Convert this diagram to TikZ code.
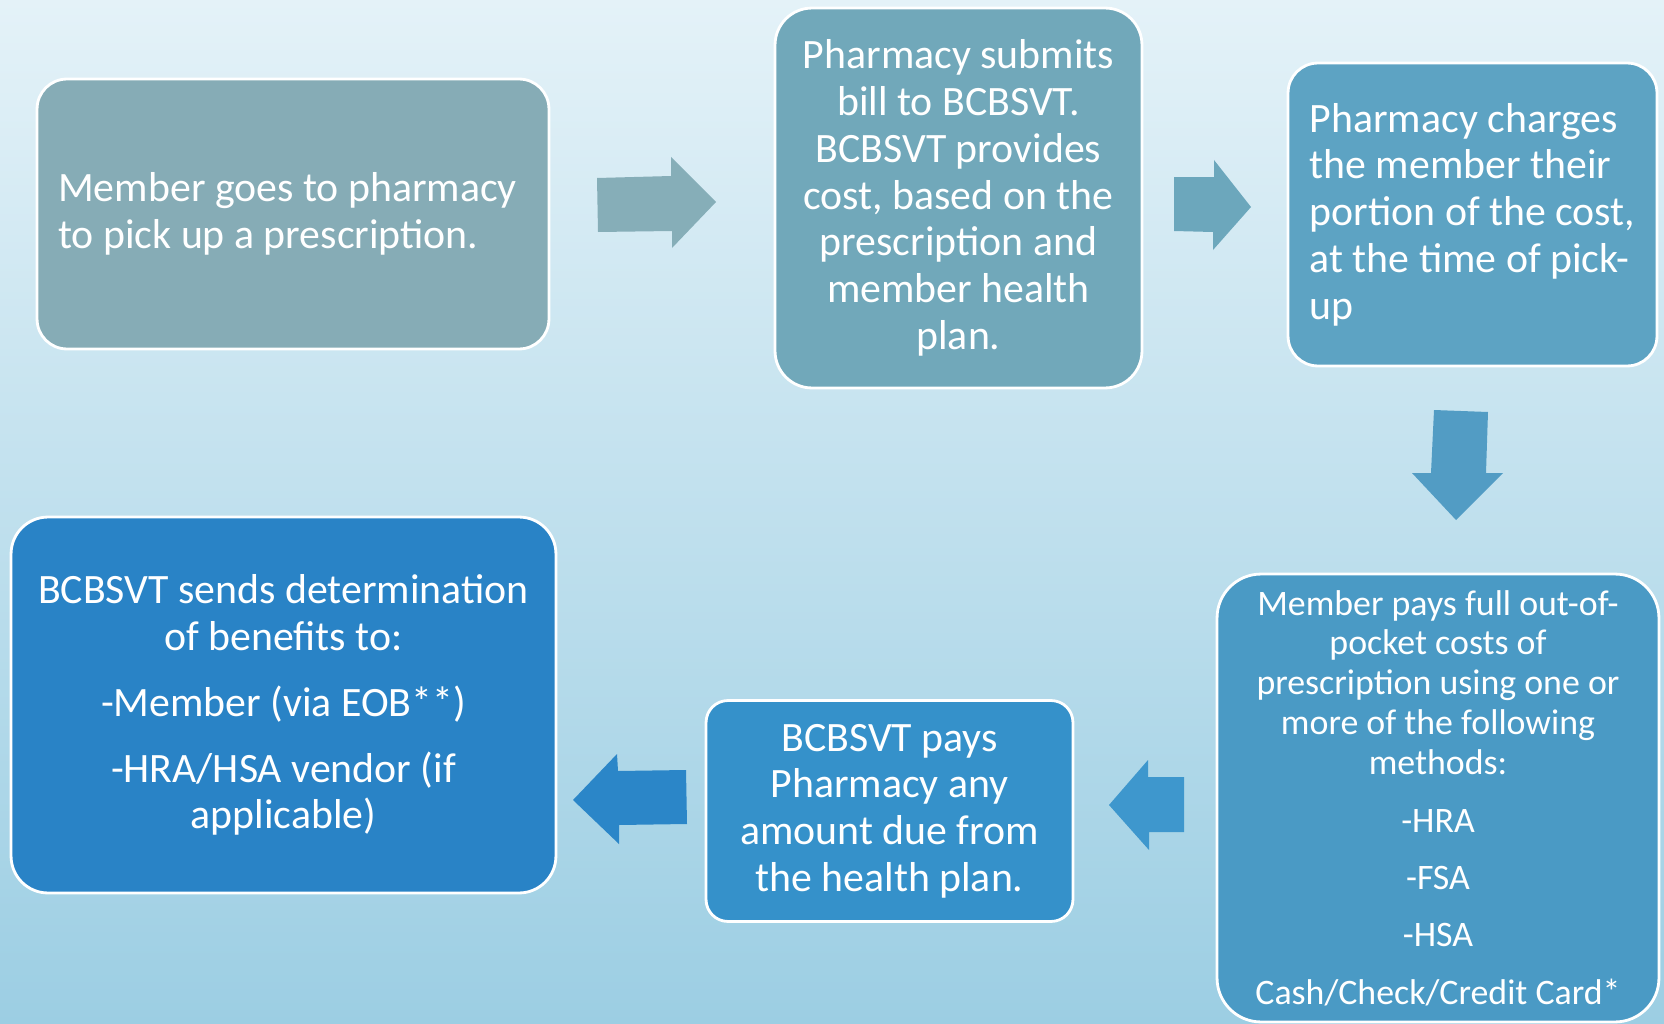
\documentclass[tikz,border=0pt]{standalone}
\usepackage{fontspec}
\setmainfont{Carlito}
\definecolor{bgtop}{HTML}{E4F2F8}
\definecolor{bgbot}{HTML}{9CCEE3}
\definecolor{cA}{HTML}{86ACB6}
\definecolor{cB}{HTML}{71A8BA}
\definecolor{cC}{HTML}{5DA3C3}
\definecolor{cD}{HTML}{3591CA}
\definecolor{cE}{HTML}{4A9AC5}
\definecolor{cF}{HTML}{2983C6}
\definecolor{aA}{HTML}{86AEB8}
\definecolor{aB}{HTML}{6CA7BC}
\definecolor{aC}{HTML}{529CC4}
\definecolor{aD}{HTML}{3E97CD}
\definecolor{aE}{HTML}{2B86C8}
\begin{document}
\begin{tikzpicture}[x=0.02cm,y=-0.02cm,
  box/.style={draw=white,line width=1.6pt,text=white,inner sep=0pt,
    font=\fontsize{23.8}{26.6}\selectfont},
  smallbox/.style={box,font=\fontsize{20.4}{22.7}\selectfont}]
\useasboundingbox (0,0) rectangle (1664,1024);
\shade[top color=bgtop,bottom color=bgbot] (0,0) rectangle (1664,1024);

\node[box,fill=cA,rounded corners=17pt,minimum width=10.24cm,minimum height=5.4cm,
  align=left] (b1) at (293,214)
  {Member goes to pharmacy\hspace*{0.22cm}\\to pick up a prescription.};
\node[box,fill=cB,rounded corners=21pt,minimum width=7.34cm,minimum height=7.6cm,
  align=center] (b2) at (958.5,198)
  {Pharmacy submits\\bill to BCBSVT.\\BCBSVT provides\\cost, based on the\\prescription and\\member health\\plan.};
\node[box,fill=cC,rounded corners=17pt,minimum width=7.38cm,minimum height=6.06cm,
  align=left] (b3) at (1472.5,214.5)
  {Pharmacy charges\\the member their\\portion of the cost,\\at the time of pick-\\up};
\node[smallbox,fill=cE,rounded corners=25pt,minimum width=8.84cm,minimum height=8.96cm,
  align=center] (b5) at (1438,798)
  {Member pays full out-of-\\pocket costs of\\prescription using one or\\more of the following\\methods:\\[10pt]-HRA\\[10pt]-FSA\\[10pt]-HSA\\[10pt]Cash/Check/Credit Card*};
\node[box,fill=cD,rounded corners=12.5pt,minimum width=7.34cm,minimum height=4.42cm,
  align=center] (b4) at (889.5,811)
  {BCBSVT pays\\Pharmacy any\\amount due from\\the health plan.};
\node[box,fill=cF,rounded corners=21pt,minimum width=10.9cm,minimum height=7.52cm,
  align=center] (b6) at (283.5,705)
  {BCBSVT sends determination\\of benefits to:\\[11pt]-Member (via EOB**)\\[11pt]-HRA/HSA vendor (if\\applicable)};

% block arrows
\fill[aA] (597,178) -- (671,176) -- (671,157) -- (716,202) -- (672,248) -- (672,231) -- (598,232) -- cycle;
\fill[aB] (1174,177) -- (1214,177) -- (1214,160) -- (1251,207) -- (1213,250) -- (1213,232) -- (1174,231) -- cycle;
\fill[aC] (1434,410) -- (1488,412) -- (1486,473) -- (1503,473) -- (1456,520) -- (1412,473) -- (1431,473) -- cycle;
\fill[aD] (1184,777) -- (1148,777) -- (1148,760) -- (1109,805) -- (1149,850) -- (1149,832) -- (1184,832) -- cycle;
\fill[aE] (686,770) -- (618,771) -- (617,754) -- (573,800) -- (619,844) -- (619,825) -- (687,824) -- cycle;
\end{tikzpicture}
\end{document}
